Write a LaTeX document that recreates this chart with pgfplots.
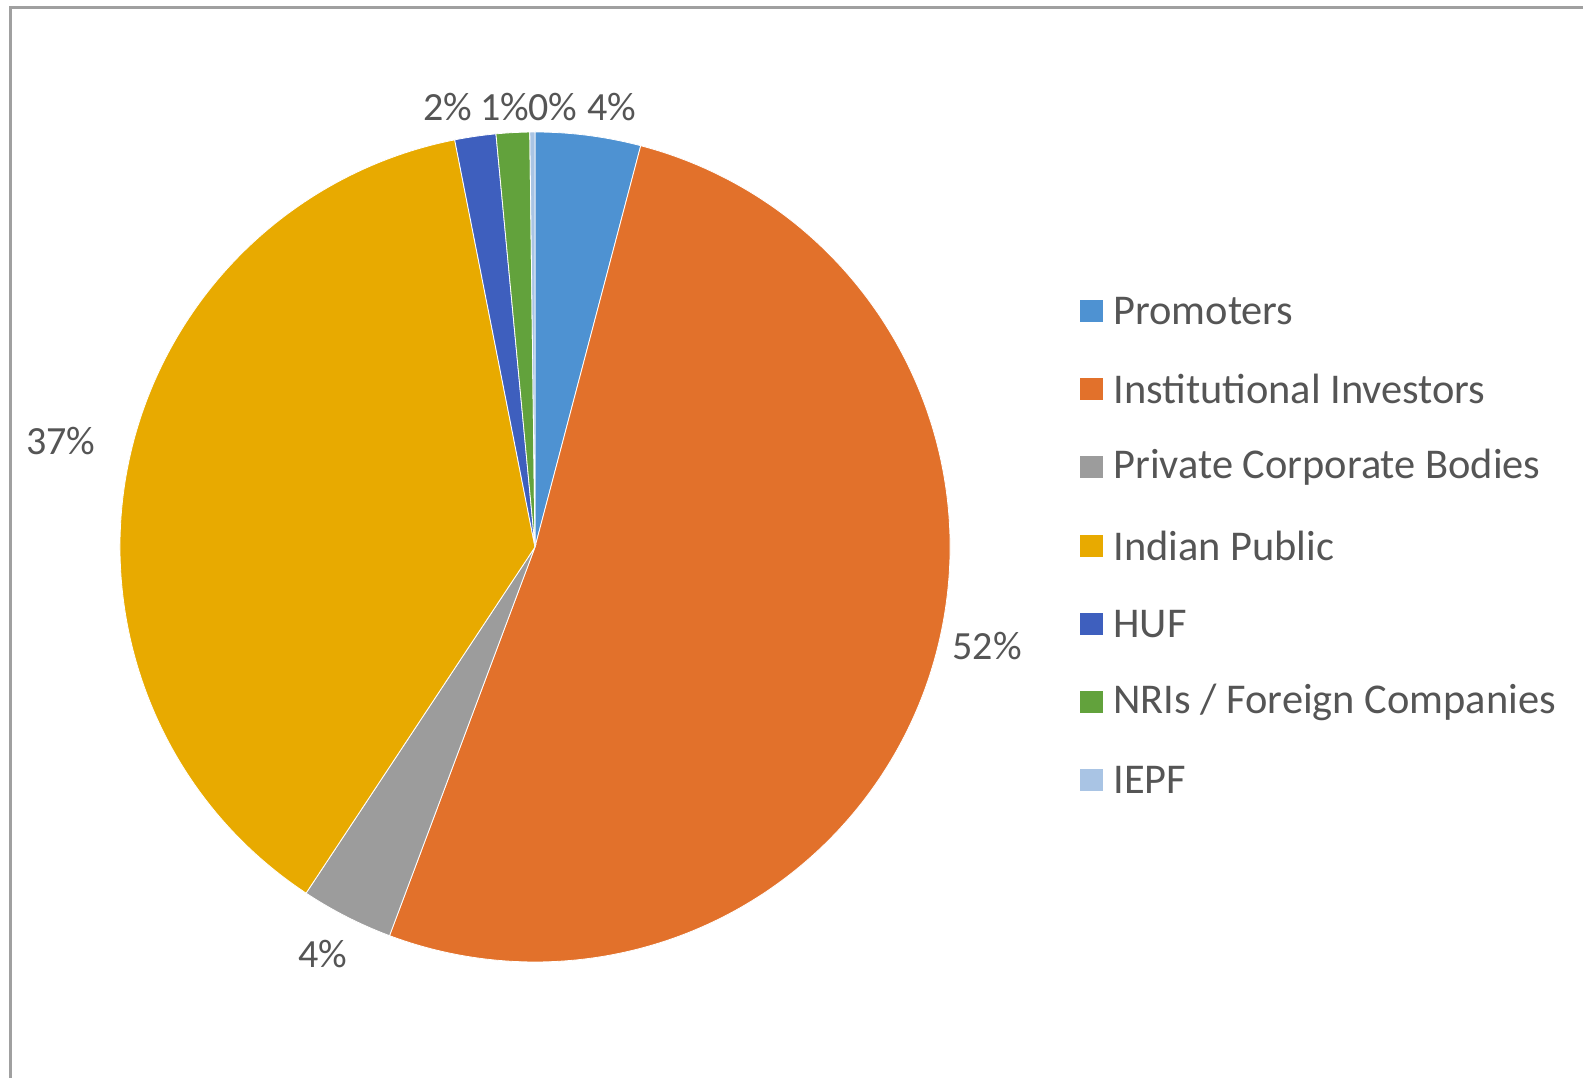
\documentclass[border=0pt]{standalone}
\usepackage{pgfplots}
\pgfplotsset{compat=1.18}
\usepackage{fontspec}
\setmainfont{Carlito}
\definecolor{cProm}{HTML}{4E92D2}
\definecolor{cInst}{HTML}{E2712B}
\definecolor{cPriv}{HTML}{9C9C9C}
\definecolor{cInd}{HTML}{E8AA00}
\definecolor{cHUF}{HTML}{3E5FBE}
\definecolor{cNRI}{HTML}{62A23C}
\definecolor{cIEPF}{HTML}{A9C4E4}
\definecolor{txt}{HTML}{555555}
\definecolor{frame}{HTML}{A0A0A0}
\begin{document}
\begin{tikzpicture}
\begin{axis}[
  width=791.5pt, height=539pt, scale only axis,
  xmin=0, xmax=1583, ymin=0, ymax=1078,
  hide axis, clip=false,
]
% frame
\draw[frame, line width=1.5pt] (axis cs:10,0) -- (axis cs:10,1070) -- (axis cs:1583,1070);
% pie: shares in percent, clockwise from 12 o'clock
\def\cx{535}\def\cy{531}\def\r{415}
\gdef\acc{0}
\foreach \v/\c in {4.1/cProm, 51.6/cInst, 3.6/cPriv, 37.6/cInd, 1.6/cHUF, 1.3/cNRI, 0.2/cIEPF}{
  \pgfmathsetmacro\aS{90-3.6*\acc}
  \pgfmathsetmacro\aE{90-3.6*(\acc+\v)}
  \pgfmathsetmacro\px{\cx+\r*cos(\aS)}
  \pgfmathsetmacro\py{\cy+\r*sin(\aS)}
  \edef\doit{\noexpand\fill[fill=\c, draw=white, line width=0.4pt] (axis cs:\cx,\cy) -- (axis cs:\px,\py) arc[start angle=\aS, end angle=\aE, radius=\r] -- cycle;}
  \doit
  \pgfmathsetmacro\newacc{\acc+\v}
  \xdef\acc{\newacc}
}
% data labels
\tikzset{lab/.style={text=txt, font=\fontsize{20}{24}\selectfont, inner sep=0pt}}
\node[lab] at (axis cs:612,971) {4\%};
\node[lab] at (axis cs:987,432) {52\%};
\node[lab] at (axis cs:323,124) {4\%};
\node[lab] at (axis cs:61,637) {37\%};
\node[lab] at (axis cs:448,971) {2\%};
\node[lab] at (axis cs:505,971) {1\%};
\node[lab] at (axis cs:553,971) {0\%};
% legend
\tikzset{leg/.style={text=txt, font=\fontsize{21.2}{25}\selectfont, inner sep=0pt, anchor=west}}
\foreach \y/\c/\t in {767/cProm/{Promoters}, 689/cInst/{Institutional Investors}, 611/cPriv/{Private Corporate Bodies}, 532/cInd/{Indian Public}, 454/cHUF/{HUF}, 376/cNRI/{NRIs / Foreign Companies}, 298/cIEPF/{IEPF}}{
  \edef\doit{\noexpand\fill[\c] (axis cs:1080,\y-11) rectangle (axis cs:1103,\y+11);}
  \doit
  \edef\doit{\noexpand\node[leg] at (axis cs:1113,\y) {\t};}
  \doit
}
\end{axis}
\pgfresetboundingbox
\path (current axis.south west) rectangle (current axis.north east);
\end{tikzpicture}
\end{document}
